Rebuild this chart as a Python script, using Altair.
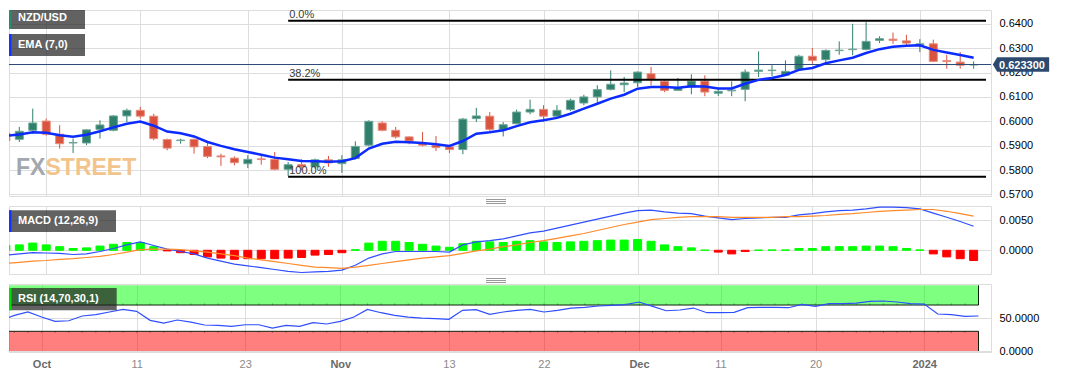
import altair as alt
import pandas as pd

# ---------------- data ----------------
# trading-day index 0 = 27 Sep 2023 ... 72 = 5 Jan 2024
day_index = list(range(73))

opens = [0.5952, 0.5926, 0.5963, 0.6001, 0.5947, 0.5911, 0.5911, 0.5967, 0.5963, 0.6022,
         0.6045, 0.6021, 0.5925, 0.5921, 0.5926, 0.5897, 0.5858, 0.5849, 0.5826, 0.5846,
         0.5844, 0.5803, 0.5822, 0.5813, 0.5842, 0.5826, 0.5847, 0.5902, 0.5993, 0.5963,
         0.5936, 0.5911, 0.5902, 0.5895, 0.5884, 0.6011, 0.6021, 0.5966, 0.5990, 0.6038,
         0.6049, 0.6021, 0.6048, 0.6075, 0.6100, 0.6131, 0.6150, 0.6158, 0.6195, 0.6164,
         0.6127, 0.6141, 0.6165, 0.6115, 0.6125, 0.6131, 0.6205, 0.6208, 0.6189, 0.6212,
         0.6267, 0.6253, 0.6290, 0.6294, 0.6295, 0.6332, 0.6337, 0.6330, 0.6314, 0.6318,
         0.6249, 0.6243, 0.6231]
highs = [0.5962, 0.5977, 0.6052, 0.6011, 0.5984, 0.5929, 0.5967, 0.6004, 0.6025, 0.6052,
         0.6059, 0.6031, 0.5929, 0.5929, 0.5929, 0.5915, 0.5867, 0.5856, 0.5861, 0.5861,
         0.5874, 0.5833, 0.5844, 0.5847, 0.5858, 0.5861, 0.5918, 0.6004, 0.6000, 0.5977,
         0.5938, 0.5956, 0.5940, 0.5902, 0.6014, 0.6055, 0.6038, 0.5997, 0.6048, 0.6089,
         0.6066, 0.6066, 0.6093, 0.6109, 0.6148, 0.6209, 0.6182, 0.6205, 0.6223, 0.6168,
         0.6178, 0.6193, 0.6189, 0.6134, 0.6164, 0.6213, 0.6287, 0.6230, 0.6250, 0.6273,
         0.6301, 0.6295, 0.6328, 0.6400, 0.6407, 0.6349, 0.6364, 0.6355, 0.6337, 0.6335,
         0.6273, 0.6284, 0.6246]
lows = [0.5910, 0.5915, 0.5949, 0.5941, 0.5888, 0.5870, 0.5902, 0.5929, 0.5959, 0.5997,
        0.6011, 0.5922, 0.5881, 0.5908, 0.5867, 0.5849, 0.5817, 0.5819, 0.5808, 0.5822,
        0.5799, 0.5776, 0.5799, 0.5806, 0.5813, 0.5788, 0.5844, 0.5897, 0.5959, 0.5929,
        0.5906, 0.5897, 0.5878, 0.5870, 0.5865, 0.5997, 0.5960, 0.5938, 0.5988, 0.6029,
        0.5997, 0.6015, 0.6042, 0.6066, 0.6076, 0.6127, 0.6120, 0.6141, 0.6148, 0.6120,
        0.6127, 0.6111, 0.6103, 0.6104, 0.6103, 0.6082, 0.6182, 0.6185, 0.6189, 0.6212,
        0.6236, 0.6236, 0.6273, 0.6271, 0.6291, 0.6321, 0.6318, 0.6305, 0.6284, 0.6243,
        0.6216, 0.6216, 0.6216]
closes = [0.5920, 0.5959, 0.5993, 0.5947, 0.5908, 0.5913, 0.5965, 0.5985, 0.6022, 0.6045,
          0.6021, 0.5929, 0.5890, 0.5923, 0.5895, 0.5856, 0.5854, 0.5830, 0.5844, 0.5843,
          0.5803, 0.5822, 0.5813, 0.5842, 0.5829, 0.5842, 0.5897, 0.6000, 0.5963, 0.5936,
          0.5919, 0.5902, 0.5892, 0.5884, 0.6009, 0.6022, 0.5967, 0.5986, 0.6038, 0.6049,
          0.6021, 0.6045, 0.6086, 0.6100, 0.6130, 0.6152, 0.6157, 0.6202, 0.6172, 0.6127,
          0.6138, 0.6165, 0.6120, 0.6123, 0.6128, 0.6202, 0.6210, 0.6210, 0.6205, 0.6267,
          0.6250, 0.6291, 0.6292, 0.6296, 0.6328, 0.6339, 0.6332, 0.6321, 0.6318, 0.6246,
          0.6245, 0.6230, 0.6233]
ema7 = [0.5940, 0.5946, 0.5955, 0.5953, 0.5943, 0.5937, 0.5945, 0.5959, 0.5975, 0.5990,
        0.5999, 0.5982, 0.5958, 0.5951, 0.5938, 0.5915, 0.5899, 0.5885, 0.5874, 0.5863,
        0.5851, 0.5844, 0.5837, 0.5836, 0.5834, 0.5836, 0.5849, 0.5888, 0.5908, 0.5916,
        0.5914, 0.5911, 0.5906, 0.5899, 0.5919, 0.5949, 0.5955, 0.5963, 0.5980, 0.5996,
        0.6004, 0.6014, 0.6031, 0.6052, 0.6072, 0.6093, 0.6109, 0.6134, 0.6141, 0.6141,
        0.6138, 0.6144, 0.6143, 0.6135, 0.6135, 0.6154, 0.6170, 0.6178, 0.6190, 0.6211,
        0.6219, 0.6238, 0.6250, 0.6261, 0.6280, 0.6296, 0.6306, 0.6310, 0.6312, 0.6293,
        0.6282, 0.6272, 0.6261]
macd_line = [-0.0008, -0.0006, -0.0004, -0.00045, -0.0005, -0.0007, -0.0006, -0.0002, 0.0003, 0.0009,
             0.0014, 0.0008, 0.0002, -0.0002, -0.0006, -0.0013, -0.0018, -0.0023, -0.0026, -0.0029,
             -0.0032, -0.0035, -0.0037, -0.0036, -0.0035, -0.0033, -0.0025, -0.0013, -0.0006, -0.0002,
             -0.0002, -0.0002, -0.0002, -0.0003, 0.0009, 0.0014, 0.0016, 0.0019, 0.0024, 0.0029,
             0.0032, 0.0037, 0.0042, 0.0047, 0.0052, 0.0057, 0.0062, 0.0066, 0.0067, 0.0064,
             0.0062, 0.0061, 0.0057, 0.0054, 0.0051, 0.0053, 0.0054, 0.0055, 0.0055, 0.0059,
             0.0061, 0.0064, 0.0066, 0.0067, 0.0069, 0.0072, 0.0072, 0.0071, 0.0069, 0.0062,
             0.0055, 0.0048, 0.0040]
signal_line = [-0.0022, -0.0020, -0.0018, -0.0017, -0.0015, -0.0014, -0.0012, -0.0010, -0.0007, -0.0003,
               0.0001, 0.0002, 0.0002, 0.0001, -0.0001, -0.0003, -0.0006, -0.0009, -0.0013, -0.0016,
               -0.0019, -0.0022, -0.0025, -0.0028, -0.0029, -0.0030, -0.0028, -0.0025, -0.0022, -0.0019,
               -0.0016, -0.0013, -0.0011, -0.0009, -0.0005, -0.0001, 0.0002, 0.0006, 0.0009, 0.0013,
               0.0016, 0.0020, 0.0024, 0.0028, 0.0033, 0.0038, 0.0043, 0.0047, 0.0051, 0.0053,
               0.0055, 0.0056, 0.0056, 0.0056, 0.0055, 0.0055, 0.0055, 0.0055, 0.0056, 0.0056,
               0.0057, 0.0058, 0.0060, 0.0061, 0.0063, 0.0065, 0.0066, 0.0067, 0.0068, 0.0068,
               0.0065, 0.0061, 0.0057]
macd_hist = [0.0008, 0.0009, 0.0012, 0.0009, 0.0006, 0.0003, 0.0004, 0.0007, 0.0010, 0.0013,
             0.0013, 0.0006, -0.0001, -0.0004, -0.0007, -0.0011, -0.0013, -0.0015, -0.0014, -0.0014,
             -0.0014, -0.0013, -0.0012, -0.0008, -0.0007, -0.0004, 0.0001, 0.0012, 0.0015, 0.0015,
             0.0013, 0.0010, 0.0007, 0.0005, 0.0011, 0.0015, 0.0014, 0.0013, 0.0015, 0.0016,
             0.0014, 0.0013, 0.0014, 0.0015, 0.0016, 0.0017, 0.0017, 0.0018, 0.0015, 0.0009,
             0.0006, 0.0004, 0.00003, -0.0003, -0.0006, -0.0002, 0.00003, 0.00006, 0.00006, 0.0003,
             0.0003, 0.0006, 0.0006, 0.0006, 0.0007, 0.0007, 0.0006, 0.0003, 0.00006, -0.0006,
             -0.0011, -0.0014, -0.0017]
rsi14 = [46.7, 54.3, 59.4, 51.7, 45.2, 46.1, 53.3, 55.3, 59.4, 63.4,
         60.4, 46.7, 42.6, 47.2, 44.1, 39.6, 39.1, 37.6, 40.0, 40.0,
         35.0, 39.1, 37.6, 43.1, 41.1, 45.2, 51.7, 63.4, 58.3, 54.3,
         51.7, 50.2, 49.2, 48.2, 61.9, 62.9, 55.8, 59.4, 61.9, 63.4,
         59.4, 61.9, 65.4, 66.5, 68.5, 69.6, 70.5, 74.6, 68.0, 61.3,
         62.4, 65.4, 58.3, 58.3, 58.9, 65.9, 66.5, 66.5, 65.9, 71.1,
         68.0, 72.0, 72.0, 73.0, 75.6, 76.1, 74.6, 72.0, 71.5, 56.3,
         55.3, 52.8, 53.3]

tick_days = [3, 10, 18, 25, 33, 40, 47, 53, 60, 68]
tick_labels = ["Oct", "11", "23", "Nov", "13", "22", "Dec", "11", "20", "2024"]
month_days = [3, 25, 47, 68]

price_ticks = [0.57, 0.58, 0.59, 0.60, 0.61, 0.62, 0.63, 0.64]
macd_ticks = [0.0, 0.005]
rsi_ticks = [0, 50]

fib_names = ["0.0%", "38.2%", "100.0%"]
fib_prices = [0.6413, 0.6170, 0.5773]
fib_start_day = 21

rsi_zone_lo = [70, 0]
rsi_zone_hi = [100, 30]
rsi_zone_color = ["#00ff00", "#ff0000"]

for arr in (opens, highs, lows, closes, ema7, macd_line, signal_line, macd_hist, rsi14):
    assert len(arr) == 73, len(arr)

# ---------------- layout / style ----------------
W, H1, H2, H3 = 982, 186, 68, 68
X_DOM = [0.604, 72.92]
P_DOM = [0.56935, 0.64567]
M_DOM = [-0.00395, 0.00738]
R_DOM = [-1.5, 102.0]
FONT = "Liberation Sans, Arial, Helvetica, sans-serif"
GREEN, RED = "#2f7f6d", "#d9533f"
GREEN_E, RED_E = "#6fa697", "#e68c7b"
BOX = "#1f1f1f"

label_expr = " : ".join(f"datum.value == {d} ? '{t}'" for d, t in zip(tick_days, tick_labels)) + " : ''"
bold_test = "indexof([" + ",".join(str(d) for d in month_days) + "], datum.value) >= 0"

grid_axis = alt.Axis(values=tick_days, labels=False, ticks=False, domain=False, grid=True, title=None)
bottom_axis = alt.Axis(values=tick_days, labelExpr=label_expr, ticks=False, domain=False, grid=True,
                       title=None, labelPadding=6, labelOverlap=False, labelFontSize=11,
                       labelFontWeight={"condition": {"test": bold_test, "value": "bold"}, "value": "normal"},
                       labelColor={"condition": {"test": bold_test, "value": "#6a6a6a"}, "value": "#8a8a8a"})


def X(field, axis):
    return alt.X(f"{field}:Q", scale=alt.Scale(domain=X_DOM, nice=False, zero=False), axis=axis)


def Y(field, dom, ticks):
    return alt.Y(f"{field}:Q", scale=alt.Scale(domain=dom, nice=False, zero=False),
                 axis=alt.Axis(orient="right", values=ticks, format=".4f", title=None, ticks=False,
                               domain=False, grid=True, labelPadding=8, labelFontSize=11))


df = pd.DataFrame({"i": day_index, "open": opens, "high": highs, "low": lows, "close": closes,
                   "ema": ema7, "macd": macd_line, "signal": signal_line, "hist": macd_hist,
                   "rsi": rsi14})
df["fill"] = [GREEN if c >= o else RED for o, c in zip(opens, closes)]
df["edge"] = [GREEN_E if c >= o else RED_E for o, c in zip(opens, closes)]
df["hcol"] = ["#00ff00" if h >= 0 else "#ff0000" for h in macd_hist]

one = pd.DataFrame({"a": [0]})

# ---------------- main price panel ----------------
base = alt.Chart(df)
WM_FONT = "Liberation Sans, Arial, sans-serif"
wm_fx = alt.Chart(one).mark_text(text="FX", align="left", baseline="alphabetic", fontSize=23,
                                 fontWeight="bold", font=WM_FONT,
                                 color="#a3a7ae").encode(x=alt.value(7), y=alt.value(165))
wm_st = alt.Chart(one).mark_text(text="STREET", align="left", baseline="alphabetic", fontSize=23,
                                 fontWeight="bold", font=WM_FONT,
                                 color="#f2c48c").encode(x=alt.value(36.5), y=alt.value(165))

wicks = base.mark_rule(strokeWidth=1, clip=True).encode(
    x=X("i", grid_axis), y=Y("low", P_DOM, price_ticks), y2="high",
    color=alt.Color("fill:N", scale=None))
bodies = base.mark_bar(size=8, strokeWidth=1, clip=True).encode(
    x=X("i", grid_axis), y=Y("open", P_DOM, price_ticks), y2="close",
    color=alt.Color("fill:N", scale=None),
    stroke=alt.Stroke("edge:N", scale=None))
ema_line = base.mark_line(color="#0b2bff", strokeWidth=2.5, clip=True).encode(
    x=X("i", grid_axis), y=Y("ema", P_DOM, price_ticks))

fib_df = pd.DataFrame({"name": fib_names, "price": fib_prices,
                       "x0": [fib_start_day] * 3, "x1": [X_DOM[1]] * 3})
fib_rules = alt.Chart(fib_df).mark_rule(color="#000000", strokeWidth=2).encode(
    x=X("x0", grid_axis), x2="x1", y=Y("price", P_DOM, price_ticks))
fib_text = alt.Chart(fib_df).mark_text(align="left", baseline="alphabetic", dx=1, dy=-3, fontSize=11,
                                       font=FONT, color="#3a3a3a").encode(
    x=X("x0", grid_axis), y=Y("price", P_DOM, price_ticks), text="name:N")

last_df = pd.DataFrame({"price": [closes[-1]], "label": [f"{closes[-1]:.6f}"]})
price_rule = alt.Chart(last_df).mark_rule(color="#2c4a75", strokeWidth=1).encode(
    y=Y("price", P_DOM, price_ticks))
TAG = "M -1 0 L -0.847 -0.261 L 1 -0.261 L 1 0.261 L -0.847 0.261 Z"
tag = alt.Chart(last_df).mark_point(shape=TAG, size=3170, filled=True, opacity=1,
                                    color="#2d4a6e", strokeWidth=0).encode(
    x=alt.value(1012), y=Y("price", P_DOM, price_ticks))
tag_text = alt.Chart(last_df).mark_text(color="white", fontWeight="bold", fontSize=11, font=FONT,
                                        align="center", baseline="middle", dy=1).encode(
    x=alt.value(1021 - 8), y=Y("price", P_DOM, price_ticks), text="label:N")


def label_box(text, y0, y1, x1, accent, ty):
    box = alt.Chart(one).mark_rect(color=BOX, opacity=0.7).encode(
        x=alt.value(0), x2=alt.value(x1), y=alt.value(y0), y2=alt.value(y1))
    acc = alt.Chart(one).mark_rect(color=accent).encode(
        x=alt.value(0), x2=alt.value(2.5), y=alt.value(y0), y2=alt.value(y1))
    txt = alt.Chart(one).mark_text(text=text, color="white", fontWeight="bold", fontSize=11, font=FONT,
                                   align="left", baseline="middle").encode(
        x=alt.value(9), y=alt.value(ty))
    return [box, acc, txt]


def handle(ys):
    return [alt.Chart(one).mark_rule(color="#9a9a9a", strokeWidth=1).encode(
        x=alt.value(477), x2=alt.value(497), y=alt.value(v)) for v in ys]


main = alt.layer(
    wm_fx, wm_st, wicks, bodies, fib_rules, price_rule, ema_line, fib_text,
    *label_box("NZD/USD", 0, 19, 76, "#2a8a70", 8),
    *label_box("EMA (7,0)", 24, 46, 76, "#1433ff", 35),
    tag, tag_text,
).properties(width=W, height=H1)

# ---------------- MACD panel ----------------
hist = base.mark_bar(size=8, strokeWidth=1, clip=True).encode(
    x=X("i", grid_axis), y=Y("hist", M_DOM, macd_ticks),
    color=alt.Color("hcol:N", scale=None),
    stroke=alt.Stroke("hcol:N", scale=None))
macd_l = base.mark_line(color="#2f4fff", strokeWidth=1.2, clip=True).encode(
    x=X("i", grid_axis), y=Y("macd", M_DOM, macd_ticks))
sig_l = base.mark_line(color="#ff8a2a", strokeWidth=1.2, clip=True).encode(
    x=X("i", grid_axis), y=Y("signal", M_DOM, macd_ticks))
macd_panel = alt.layer(
    hist, macd_l, sig_l, *label_box("MACD (12,26,9)", 4.3, 26, 107, "#1433ff", 15),
    *handle((-6.5, -4.5, -2.5))
).properties(width=W, height=H2)

# ---------------- RSI panel ----------------
zones = pd.DataFrame({"col": rsi_zone_color, "lo": rsi_zone_lo, "hi": rsi_zone_hi,
                      "x0": [X_DOM[0]] * 2, "x1": [day_index[-1]] * 2,
                      "edge": [rsi_zone_lo[0], rsi_zone_hi[1]]})
zone_rect = alt.Chart(zones).mark_rect(opacity=0.5, clip=True).encode(
    x=X("x0", bottom_axis), x2="x1", y=Y("lo", R_DOM, rsi_ticks), y2="hi",
    color=alt.Color("col:N", scale=None))
zone_edge = alt.Chart(zones).mark_rule(color="#102010", strokeWidth=1, clip=True).encode(
    x=X("x0", bottom_axis), x2="x1", y=Y("edge", R_DOM, rsi_ticks))
zone_side = alt.Chart(zones).mark_rule(color="#102010", strokeWidth=1, clip=True).encode(
    x=X("x1", bottom_axis), y=Y("lo", R_DOM, rsi_ticks), y2="hi")
tick_df = pd.DataFrame({"i": day_index, "a70": [70] * 73, "b70": [72.5] * 73,
                        "a30": [30] * 73, "b30": [27.5] * 73})
ticks70 = alt.Chart(tick_df).mark_rule(color="#000000", opacity=0.3, strokeWidth=1, clip=True).encode(
    x=X("i", bottom_axis), y=Y("a70", R_DOM, rsi_ticks), y2="b70")
ticks30 = alt.Chart(tick_df).mark_rule(color="#000000", opacity=0.3, strokeWidth=1, clip=True).encode(
    x=X("i", bottom_axis), y=Y("a30", R_DOM, rsi_ticks), y2="b30")
rsi_l = base.mark_line(color="#2f4fff", strokeWidth=1.2, clip=True).encode(
    x=X("i", bottom_axis), y=Y("rsi", R_DOM, rsi_ticks))
rsi_panel = alt.layer(
    zone_rect, zone_edge, zone_side, ticks70, ticks30, rsi_l,
    *label_box("RSI (14,70,30,1)", 4, 26.3, 107.7, "#00e000", 15),
    *handle((-5.5, -3.5, -1.5))
).properties(width=W, height=H3)

chart = alt.vconcat(main, macd_panel, rsi_panel, spacing=10, bounds="flush").properties(
    padding={"left": 0, "top": 0, "right": 0, "bottom": 0}
).configure_view(
    fill="#f8f8f8", stroke="#c9cfe3", strokeWidth=1
).configure_axis(
    gridColor="#e4e4e4", gridWidth=1, labelFont=FONT, labelColor="#666666", labelFontSize=11
).configure(background="white")

chart.save("out.html", embed_options={"renderer": "svg", "actions": False})
